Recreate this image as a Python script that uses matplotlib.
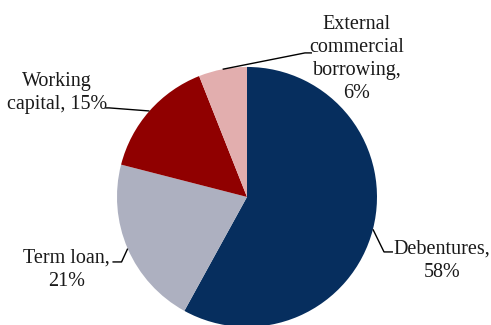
import numpy as np
import matplotlib.pyplot as plt

labels = ['Debentures', 'Term loan', 'Working capital', 'External commercial borrowing']
shares = [58, 21, 15, 6]
colors = ['#062e5e', '#adb0c0', '#900000', '#e2aeae']

# label text, where the leader bends, where the text sits
label_text = ['Debentures,\n58%', 'Term loan,\n21%', 'Working\ncapital, 15%',
              'External\ncommercial\nborrowing,\n6%']
elbows = [(1.054, -0.423), (-0.965, -0.50), (-1.06, 0.685), (0.446, 1.108)]
line_ends = [(1.123, -0.423), (-1.035, -0.50), (-1.09, 0.685), (0.50, 1.108)]
text_pos = [(1.50, -0.49), (-1.39, -0.56), (-1.46, 0.80), (0.846, 1.06)]

plt.rcParams['font.family'] = ['Liberation Serif', 'DejaVu Serif']

fig = plt.figure(figsize=(4.91, 3.25), dpi=100)
ax = fig.add_axes([0, 0, 1, 1])
wedges, _ = ax.pie(shares, colors=colors, startangle=90, counterclock=False,
                   radius=1.0, wedgeprops=dict(linewidth=0))

total = float(sum(shares))
start = 90.0
for i, v in enumerate(shares):
    mid = np.deg2rad(start - 0.5 * v / total * 360)
    start -= v / total * 360
    x0, y0 = np.cos(mid), np.sin(mid)
    ex, ey = elbows[i]
    lx, ly = line_ends[i]
    ax.plot([x0, ex, lx], [y0, ey, ly], color='black', lw=1.0, solid_capstyle='butt')
    ax.text(text_pos[i][0], text_pos[i][1], label_text[i], ha='center', va='center',
            multialignment='center', fontsize=14.5, linespacing=1.3, color='#1a1a1a')

ax.set_xlim(-1.9, 1.877)
ax.set_ylim(-0.985, 1.515)
ax.set_aspect('equal')
ax.axis('off')

fig.savefig('out.png', dpi=100)
